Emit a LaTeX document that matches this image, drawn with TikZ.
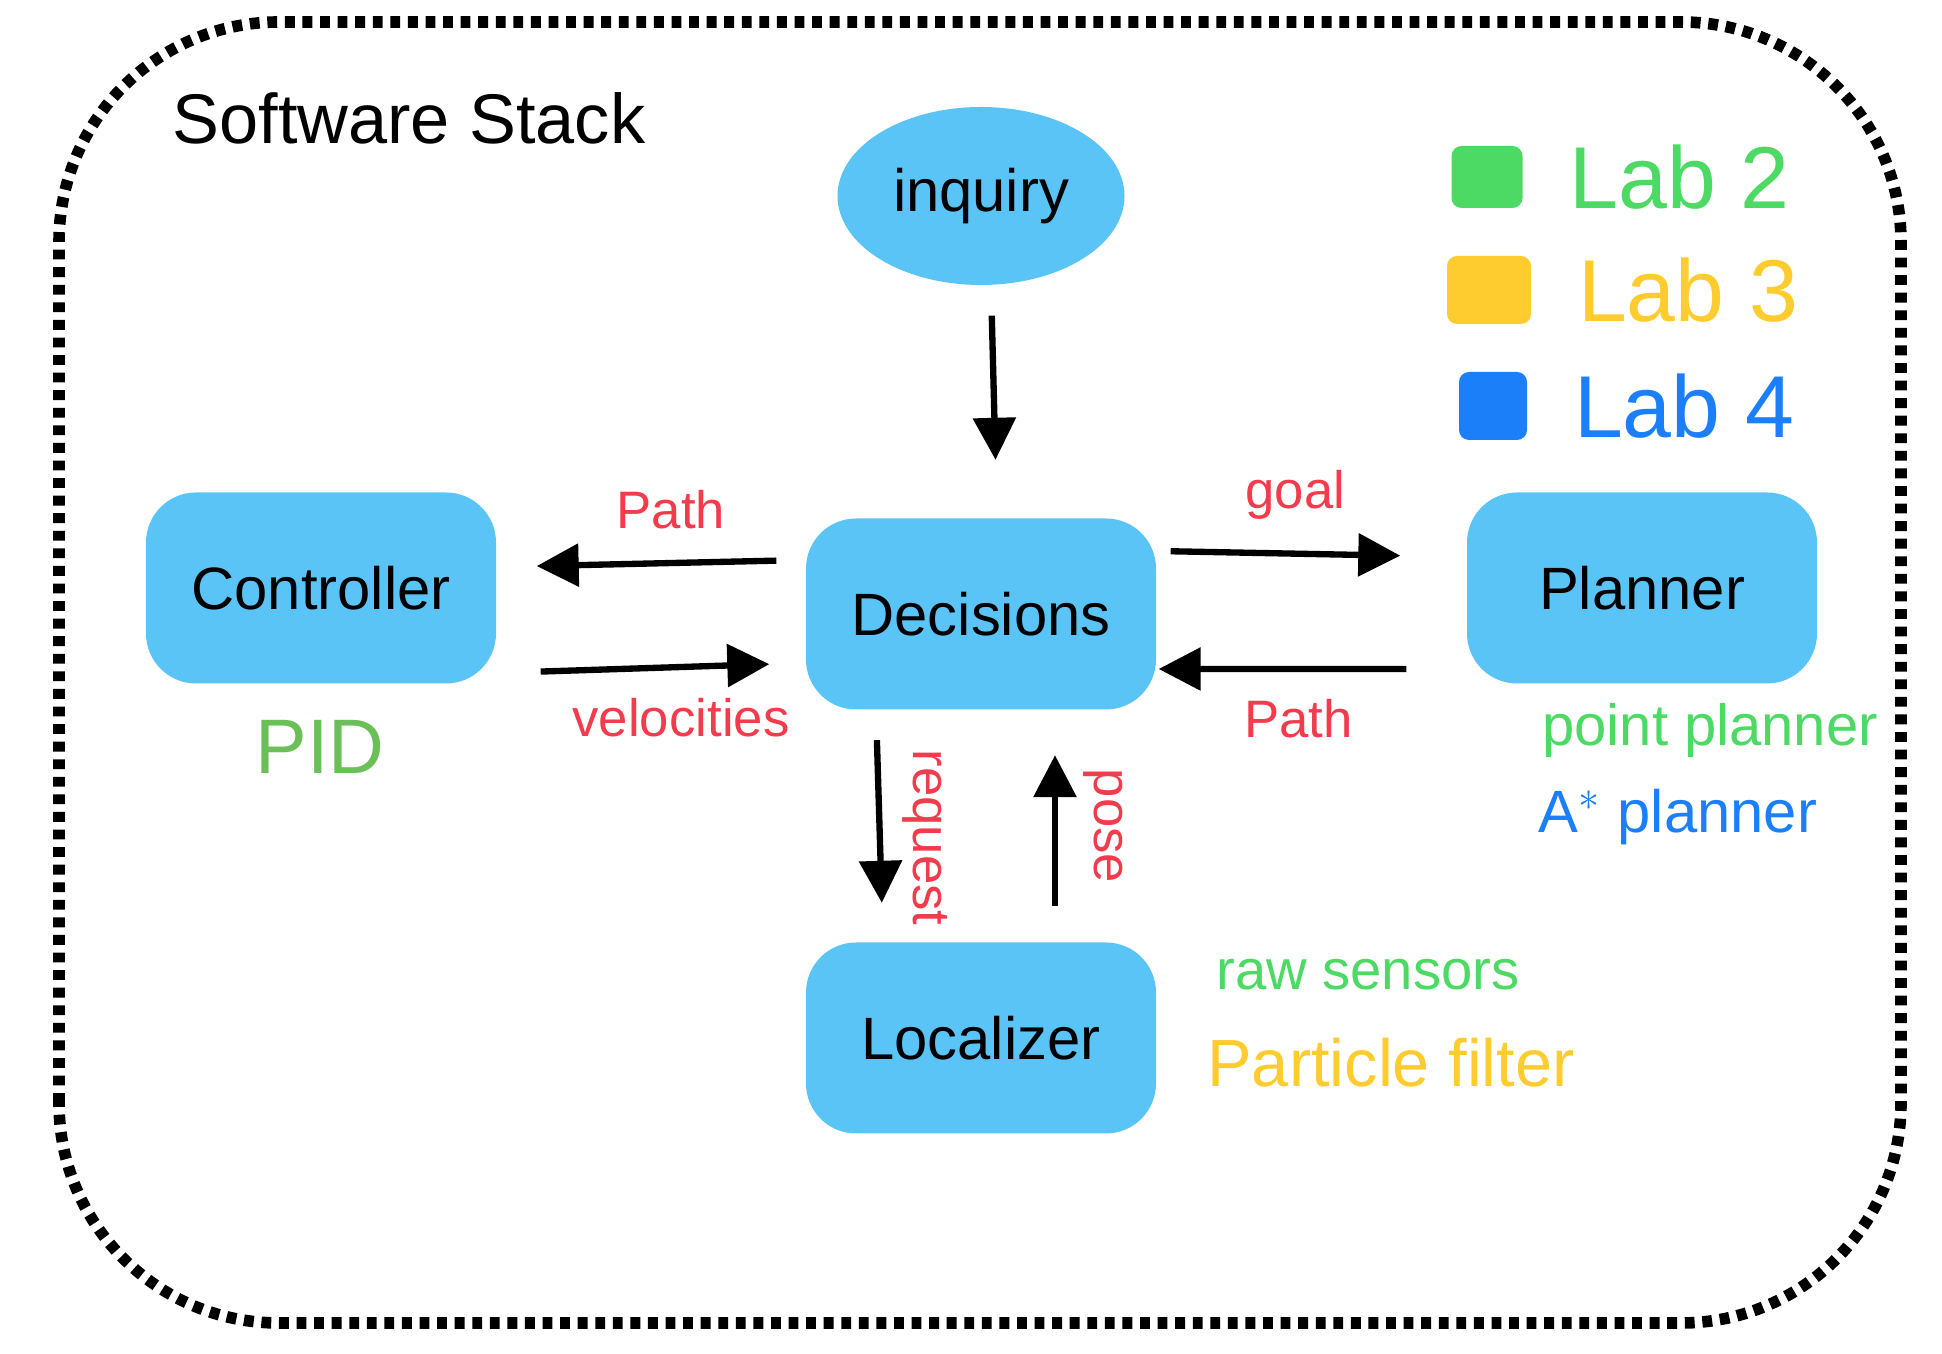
\documentclass[tikz,border=0pt]{standalone}
\usepackage{fontspec}
\setmainfont{Liberation Sans}
\definecolor{Boxcol}{HTML}{5BC4F7}
\definecolor{Lab2col}{HTML}{4CD964}
\definecolor{Lab3col}{HTML}{FFCC2F}
\definecolor{Lab4col}{HTML}{1B7FFA}
\definecolor{Pidcol}{HTML}{6BBF59}
\definecolor{Edgecol}{HTML}{F23B4C}
\usetikzlibrary{arrows.meta, positioning, shapes.geometric}
\tikzset{
    >={Triangle[length=4.2mm, width=4.2mm]},
    font=\fontsize{17}{20}\selectfont,
    box/.style={fill=Boxcol, rounded corners=5mm, minimum width=3.5cm, minimum height=1.91cm},
    flow/.style={->, line width=1.8pt},
    edgelbl/.style={Edgecol, font=\fontsize{15}{18}\selectfont},
    legbox/.style={rounded corners=1mm, inner sep=0pt},
    labtext/.style={font=\fontsize{25}{30}\selectfont, right=3.4mm of #1}
}

\begin{document}
\begin{tikzpicture}
    \useasboundingbox (0,0) rectangle (19.42,13.54);

    % Dashed outer frame
    \draw[line width=3.3pt, dash pattern=on 2.8pt off 2.2pt, rounded corners=2.2cm] (0.59,0.31) rectangle (19.01,13.32);

    % Title
    \node[font=\fontsize{20}{24}\selectfont] (title) at (4.09, 12.36) {Software Stack};

    % Blocks
    \node[ellipse, fill=Boxcol, minimum width=2.87cm, minimum height=1.78cm] (inq) at (9.81, 11.58) {inquiry};
    \node[box] (dec) at (9.81, 7.40) {Decisions};
    \node[box] (ctrl) at (3.21, 7.66) {Controller};
    \node[box] (plan) at (16.42, 7.66) {Planner};
    \node[box] (loc) at (9.81, 3.16) {Localizer};

    % Connectors
    \draw[flow, shorten <=3mm, shorten >=5.8mm] ([xshift=1mm]inq.south) -- ([xshift=1.6mm]dec.north);
    \draw[flow, shorten <=2.9mm, shorten >=4mm] ([yshift=5.4mm]dec.west) -- ([yshift=2.1mm]ctrl.east)
        node[edgelbl, midway, above=2mm, xshift=2mm] (lpath1) {Path};
    \draw[flow, shorten <=4.4mm, shorten >=3.6mm] ([yshift=-8.5mm]ctrl.east) -- ([yshift=-4.9mm]dec.west)
        node[edgelbl, midway, below=1.5mm, xshift=3mm] (lvel) {velocities};
    \draw[flow, shorten <=1.4mm, shorten >=6.6mm] ([yshift=6.3mm]dec.east) -- ([yshift=3.1mm]plan.west)
        node[edgelbl, midway, above=2mm, xshift=-1.6mm] (lgoal) {goal};
    \draw[flow, shorten <=6mm, shorten >=0.2mm] ([yshift=-8.1mm]plan.west) -- ([yshift=-5.5mm]dec.east)
        node[edgelbl, midway, below=1.5mm, xshift=-1.3mm] (lpath2) {Path};
    \draw[flow, shorten <=3mm, shorten >=3.9mm] ([xshift=-10.5mm]dec.south) -- ([xshift=-9.8mm]loc.north)
        node[edgelbl, pos=0.55, rotate=-90, anchor=south, inner sep=2mm] (lreq) {request};
    \draw[flow, shorten <=3.6mm, shorten >=4.5mm] ([xshift=7.4mm]loc.north) -- ([xshift=7.4mm]dec.south)
        node[edgelbl, midway, rotate=-90, anchor=south, inner sep=2.5mm] (lpose) {pose};

    % Notes next to blocks
    \node[Pidcol, font=\fontsize{22}{26}\selectfont] (pid) at (3.20, 6.07) {PID};
    \node[Lab2col, anchor=west, font=\fontsize{16.5}{20}\selectfont] (npoint) at (15.30, 6.23) {point planner};
    \node[Lab4col, anchor=west] (nastar) at (15.26, 5.37) {A$^{*}$ planner};
    \node[Lab2col, anchor=west, font=\fontsize{16}{20}\selectfont] (nraw) at (12.04, 3.79) {raw sensors};
    \node[Lab3col, anchor=west, font=\fontsize{19}{22}\selectfont] (npf) at (11.95, 2.91) {Particle filter};

    % Legend
    \node[legbox, fill=Lab2col, minimum width=7.1mm, minimum height=6.2mm] (sq2) at (14.87, 11.77) {};
    \node[legbox, fill=Lab3col, minimum width=8.4mm, minimum height=6.8mm] (sq3) at (14.89, 10.64) {};
    \node[legbox, fill=Lab4col, minimum width=6.8mm, minimum height=6.8mm] (sq4) at (14.93, 9.48) {};
    \node[Lab2col, labtext=sq2] (lab2) {Lab 2};
    \node[Lab3col, labtext=sq3] (lab3) {Lab 3};
    \node[Lab4col, labtext=sq4] (lab4) {Lab 4};
\end{tikzpicture}
\end{document}
